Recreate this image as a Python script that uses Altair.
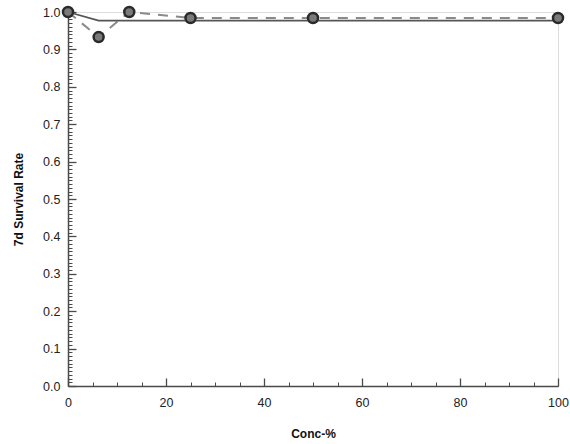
import altair as alt
import pandas as pd

# observed data
conc = [0, 6.25, 12.5, 25, 50, 100]
survival = [1.0, 0.933, 1.0, 0.984, 0.984, 0.984]
# fitted model line
fit_conc = [0, 6.25, 100]
fit_rate = [1.0, 0.977, 0.977]
# axis ticks
x_major = [0, 20, 40, 60, 80, 100]
x_minor = [0, 5, 10, 15, 20, 25, 30, 35, 40, 45, 50, 55, 60, 65, 70, 75, 80, 85, 90, 95, 100]
y_major = [0.0, 0.1, 0.2, 0.3, 0.4, 0.5, 0.6, 0.7, 0.8, 0.9, 1.0]
y_minor = [round(i * 0.01, 2) for i in range(101)]

W, H = 490, 374
FONT = "Liberation Sans"

obs = pd.DataFrame({"conc": conc, "rate": survival})
fit = pd.DataFrame({"conc": fit_conc, "rate": fit_rate})

xs = alt.Scale(domain=[0, 100], nice=False, zero=False)
ys = alt.Scale(domain=[0, 1], nice=False, zero=False)

axis_col = "#4a4a4a"

main_x = alt.Axis(values=x_major, format="d", ticks=False, tickSize=0, labelPadding=10,
                  domainColor=axis_col, domainWidth=1.5, grid=False,
                  labelFont=FONT, labelFontSize=12.5, labelColor="#222",
                  title="Conc-%", titleFont=FONT, titleFontSize=12, titleFontWeight="bold",
                  titlePadding=20, titleColor="#111", labelFlush=False)
main_y = alt.Axis(values=y_major, format=".1f", ticks=False, tickSize=0, labelPadding=8,
                  domainColor=axis_col, domainWidth=1.5, grid=False,
                  labelFont=FONT, labelFontSize=12.5, labelColor="#222",
                  title="7d Survival Rate", titleFont=FONT, titleFontSize=12, titleFontWeight="bold",
                  titlePadding=17, titleColor="#111", labelFlush=False)

dashed = alt.Chart(obs).mark_line(color="#8a8a8a", strokeWidth=2, strokeDash=[10, 8]).encode(
    x=alt.X("conc:Q", scale=xs, axis=main_x),
    y=alt.Y("rate:Q", scale=ys, axis=main_y),
)

solid = alt.Chart(fit).mark_line(color="#555555", strokeWidth=1.8).encode(
    x=alt.X("conc:Q", scale=xs, axis=None),
    y=alt.Y("rate:Q", scale=ys, axis=None),
)

points = alt.Chart(obs).mark_point(filled=True, shape="circle", size=100, fill="#7a7a7a",
                                   stroke="#2a2a2a", strokeWidth=2.5, opacity=1).encode(
    x=alt.X("conc:Q", scale=xs, axis=None),
    y=alt.Y("rate:Q", scale=ys, axis=None),
)

def tick_layer(xv, yv, size, width):
    return alt.Chart(obs).mark_point(opacity=0).encode(
        x=alt.X("conc:Q", scale=xs,
                axis=alt.Axis(orient="top", offset=-H, values=xv, labels=False, domain=False,
                              grid=False, tickSize=size, tickColor=axis_col, tickWidth=width, title=None)),
        y=alt.Y("rate:Q", scale=ys,
                axis=alt.Axis(orient="right", offset=-W, values=yv, labels=False, domain=False,
                              grid=False, tickSize=size, tickColor=axis_col, tickWidth=width, title=None)),
    )

major_ticks = tick_layer(x_major, y_major, 8, 1.3)
minor_ticks = tick_layer(x_minor, y_minor, 4, 1)

chart = alt.layer(minor_ticks, major_ticks, dashed, solid, points).resolve_axis(
    x="independent", y="independent"
).properties(
    width=W, height=H,
    autosize=alt.AutoSizeParams(type="none"),
    padding={"left": 68, "top": 12, "right": 12, "bottom": 58},
).configure_view(stroke=None).configure(background="white")

chart.save("out.html", embed_options={"renderer": "svg", "actions": False})
